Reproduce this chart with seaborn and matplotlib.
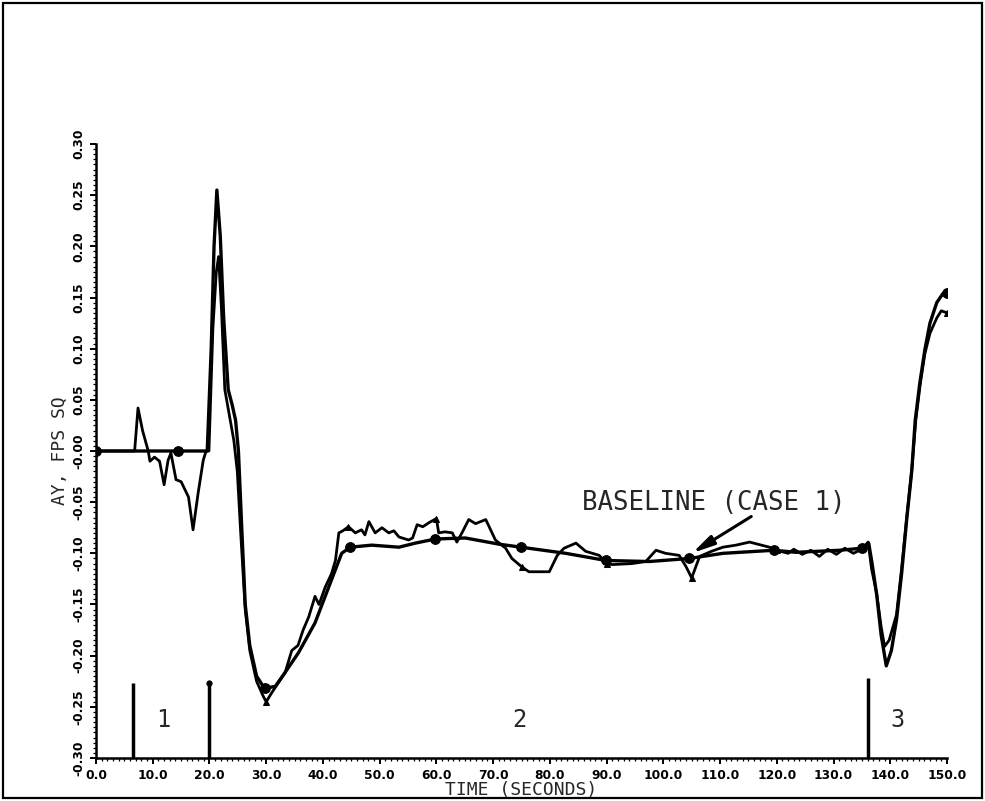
import numpy as np
import pandas as pd
import matplotlib
matplotlib.use("Agg")
import matplotlib.pyplot as plt
from matplotlib.ticker import MultipleLocator, FixedLocator
from matplotlib.patches import Rectangle
import seaborn as sns

# Lateral acceleration history, baseline run (case 1)
base_t = [0.0, 14.5, 19.6, 20.3, 20.8, 21.3, 21.9, 22.5, 23.3, 24.0, 24.6, 25.1,
          25.7, 26.3, 27.1, 28.3, 29.7, 31.6, 33.5, 35.7, 38.6, 41.5, 43.3, 44.8,
          48.6, 53.4, 56.3, 59.8, 65.1, 71.0, 74.9, 82.8, 89.9, 97.5, 104.6, 110.5,
          119.5, 123.4, 131.1, 135.0, 136.2, 136.8, 137.6, 138.4, 139.3, 140.2,
          141.1, 142.0, 142.9, 143.8, 144.4, 145.2, 146.1, 147.0, 148.2, 149.3, 150.0]
base_ay = [0.0, 0.0, 0.0, 0.10, 0.20, 0.255, 0.21, 0.13, 0.06, 0.045, 0.03, 0.0,
           -0.077, -0.15, -0.19, -0.22, -0.232, -0.230, -0.215, -0.197, -0.168, -0.126,
           -0.100, -0.094, -0.092, -0.094, -0.090, -0.086, -0.085, -0.091, -0.094,
           -0.100, -0.107, -0.108, -0.105, -0.100, -0.097, -0.099, -0.097, -0.095,
           -0.090, -0.11, -0.14, -0.18, -0.210, -0.195, -0.165, -0.12, -0.067, -0.019,
           0.030, 0.066, 0.099, 0.125, 0.145, 0.154, 0.154]
base_marks = [0.0, 14.5, 29.7, 44.8, 59.8, 74.9, 89.9, 104.6, 119.5, 135.0, 150.0]

# Lateral acceleration history, comparison run
case_t = [0.0, 6.8, 7.4, 8.2, 9.2, 9.5, 10.3, 11.2, 12.0, 12.7, 13.2, 14.1, 15.0,
          16.3, 17.1, 18.0, 18.9, 19.4, 19.9, 20.6, 21.2, 21.6, 22.1, 22.7, 23.5,
          24.3, 24.9, 25.5, 26.3, 27.1, 28.3, 29.5, 30.0, 31.0, 32.2, 33.3, 34.5,
          35.6, 36.5, 37.5, 38.6, 39.3, 40.4, 41.5, 42.2, 42.8, 43.5, 44.5, 45.7,
          46.8, 47.4, 48.1, 49.2, 50.4, 51.6, 52.5, 53.4, 55.1, 55.8, 56.6, 57.6,
          58.7, 60.0, 60.4, 61.5, 62.8, 63.6, 64.5, 65.7, 66.9, 67.8, 68.7, 70.4,
          72.2, 73.3, 75.0, 76.3, 79.9, 81.3, 82.5, 84.6, 86.3, 88.7, 90.0, 91.0,
          94.5, 96.9, 98.7, 100.4, 102.8, 104.0, 105.0, 106.4, 108.5, 110.5, 112.8,
          115.2, 118.7, 120.0, 122.0, 123.0, 124.5, 126.0, 127.5, 129.0, 130.5,
          132.0, 133.5, 135.0, 136.1, 136.7, 137.6, 138.4, 139.0, 139.8, 141.1,
          142.0, 142.9, 143.8, 144.5, 145.3, 146.1, 147.0, 148.2, 149.0, 150.0]
case_ay = [0.0, 0.0, 0.042, 0.02, 0.0, -0.010, -0.006, -0.010, -0.033, -0.009, -0.002,
           -0.028, -0.030, -0.045, -0.077, -0.041, -0.009, 0.0, 0.0, 0.12, 0.175, 0.19,
           0.14, 0.06, 0.035, 0.01, -0.02, -0.08, -0.155, -0.195, -0.225, -0.240,
           -0.245, -0.236, -0.226, -0.217, -0.195, -0.190, -0.175, -0.162, -0.142,
           -0.150, -0.133, -0.120, -0.107, -0.080, -0.078, -0.074, -0.080, -0.077,
           -0.082, -0.069, -0.080, -0.075, -0.080, -0.078, -0.084, -0.087, -0.085,
           -0.072, -0.074, -0.070, -0.066, -0.080, -0.079, -0.080, -0.089, -0.080,
           -0.067, -0.071, -0.069, -0.067, -0.087, -0.095, -0.105, -0.113, -0.118,
           -0.118, -0.102, -0.095, -0.090, -0.098, -0.102, -0.110, -0.111, -0.110,
           -0.108, -0.097, -0.100, -0.102, -0.113, -0.124, -0.103, -0.098, -0.094,
           -0.092, -0.089, -0.094, -0.097, -0.100, -0.096, -0.101, -0.097, -0.103,
           -0.096, -0.101, -0.095, -0.100, -0.096, -0.089, -0.115, -0.139, -0.172,
           -0.191, -0.185, -0.160, -0.115, -0.065, -0.018, 0.030, 0.066, 0.095,
           0.115, 0.130, 0.137, 0.135]
case_marks = [30.0, 44.5, 60.0, 75.0, 90.0, 105.0, 120.0, 135.0, 150.0]

# Flight phase boundaries and labels
phase_t = [6.5, 20.0, 136.0]
phase_top = [-0.227, -0.227, -0.222]
phase_labels = ["1", "2", "3"]
phase_label_t = [11.8, 74.6, 141.3]

x_ticks = np.arange(0, 151, 10)
x_tick_labels = [f"{v:.1f}" for v in x_ticks]
y_ticks = np.round(np.arange(-0.30, 0.301, 0.05), 2)
y_tick_labels = [f"{v:.2f}" for v in y_ticks]

sns.set_style("ticks")
plt.rcParams["font.family"] = ["DejaVu Sans"]

fig = plt.figure(figsize=(9.85, 8.01), dpi=100)
ax = fig.add_axes([0.0975, 0.0537, 0.8639, 0.7665])

base = pd.DataFrame({"t": base_t, "ay": base_ay})
case = pd.DataFrame({"t": case_t, "ay": case_ay})
base_idx = list(np.where(np.isin(base["t"], base_marks))[0])
case_idx = list(np.where(np.isin(case["t"], case_marks))[0])

sns.lineplot(data=case, x="t", y="ay", ax=ax, color="black", lw=2.0, sort=False,
             estimator=None, marker="^", markersize=5, markevery=case_idx,
             markeredgecolor="black")
sns.lineplot(data=base, x="t", y="ay", ax=ax, color="black", lw=2.4, sort=False,
             estimator=None, marker="o", markersize=7, markevery=base_idx,
             markeredgecolor="black")

# phase boundary bars
for t, top in zip(phase_t, phase_top):
    ax.plot([t, t], [-0.30, top], color="black", lw=2.5, solid_capstyle="butt")
ax.plot([phase_t[1]], [phase_top[1]], "o", color="black", markersize=3.5)
for lab, t in zip(phase_labels, phase_label_t):
    ax.text(t, -0.263, lab, ha="center", va="center", fontsize=17,
            family="DejaVu Sans Mono")

# case label with pointer to the baseline curve
ax.text(108.8, -0.051, "BASELINE (CASE 1)", ha="center", va="center",
        fontsize=18.5, family="DejaVu Sans Mono")
ax.annotate("", xy=(105.1, -0.0997), xytext=(115.5, -0.064),
            arrowprops=dict(arrowstyle="-|>,head_length=1.3,head_width=0.3",
                            color="black", lw=2.2, shrinkA=0, shrinkB=0))

ax.set_xlim(0, 150)
ax.set_ylim(-0.30, 0.30)
ax.xaxis.set_major_locator(FixedLocator(x_ticks))
ax.yaxis.set_major_locator(FixedLocator(y_ticks))
ax.set_xticklabels(x_tick_labels, fontsize=8.8, fontweight="bold")
ax.set_yticklabels(y_tick_labels, fontsize=8.8, fontweight="bold", rotation=90,
                   va="center")
ax.xaxis.set_minor_locator(MultipleLocator(1))
ax.yaxis.set_minor_locator(MultipleLocator(0.005))
ax.tick_params(which="major", direction="out", length=4, width=1.4, color="black",
               labelcolor="black", pad=4)
ax.tick_params(which="minor", direction="out", length=2, width=0.9, color="black")

ax.set_xlabel("TIME (SECONDS)", fontsize=13, family="DejaVu Sans Mono", va="center")
ax.xaxis.set_label_coords(0.5, -0.052)
ax.set_ylabel("AY, FPS SQ", fontsize=13, family="DejaVu Sans Mono", va="center")
ax.yaxis.set_label_coords(-0.042, 0.5)

for side in ("top", "right"):
    ax.spines[side].set_visible(False)
for side in ("left", "bottom"):
    ax.spines[side].set_linewidth(1.8)
    ax.spines[side].set_color("black")
ax.grid(False)

fig.patches.append(Rectangle((0.003, 0.004), 0.994, 0.992, transform=fig.transFigure,
                             fill=False, edgecolor="black", lw=1.6))

fig.savefig("out.png", dpi=100, facecolor="white")
